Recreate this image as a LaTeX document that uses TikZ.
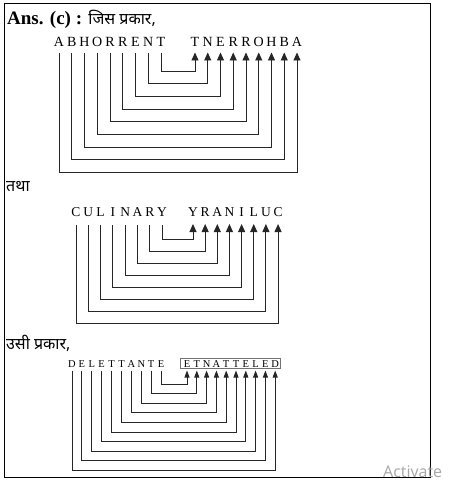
\documentclass[tikz,border=0pt]{standalone}
\usepackage{fontspec}
\setmainfont{Liberation Serif}
\newfontfamily\hindi[Script=Devanagari]{Noto Sans}
\newfontfamily\winfont{Open Sans}
\usetikzlibrary{arrows.meta}

\tikzset{
  ltr/.style={inner sep=0pt, anchor=base},
  link/.style={line width=0.9pt, draw=black!85},
  tip/.style={-{Triangle[length=8pt,width=7pt]}},
  smalltip/.style={-{Triangle[length=7pt,width=5pt]}},
  lbl/.style={anchor=base west, inner sep=0pt},
}

\begin{document}
\begin{tikzpicture}[x=1pt,y=-1pt]
\useasboundingbox (0,0) rectangle (459,502);
\draw[line width=1pt] (4,4) rectangle (430,477);

% heading and captions
\node[lbl] (ans) at (7,25) {\fontsize{19}{19}\selectfont\textbf{Ans. (c) :} {\hindi\fontsize{16}{16}\selectfont जिस प्रकार,}};
\node[lbl] (tatha) at (6,192) {\hindi\fontsize{16}{16}\selectfont तथा};
\node[lbl] (usi) at (6,349) {\hindi\fontsize{16}{16}\selectfont उसी प्रकार,};

% ABHORRENT
\foreach \c [count=\i] in {A,B,H,O,R,R,E,N,T}
  \node[ltr,font=\fontsize{14}{14}\selectfont] (ab\i) at ({59+(\i-1)*12.75},46.5) {\c};
\foreach \c [count=\i] in {T,N,E,R,R,O,H,B,A}
  \node[ltr,font=\fontsize{14}{14}\selectfont] (ba\i) at ({195+(\i-1)*12.75},46.5) {\c};
\foreach \i in {1,...,9}{
  \pgfmathtruncatemacro\j{10-\i}
  \coordinate (lv\i) at (0,{71+(9-\i)*12.7});
  \draw[link,tip] ([yshift=-7pt]ab\i.base) -- (ab\i |- lv\i) -- (ba\j |- lv\i) -- ([yshift=-6pt]ba\j.base);
}

% CULINARY
\foreach \c [count=\i] in {C,U,L,I,N,A,R,Y}
  \node[ltr,font=\fontsize{13.5}{13.5}\selectfont] (cu\i) at ({76+(\i-1)*12.3},217) {\c};
\foreach \c [count=\i] in {Y,R,A,N,I,L,U,C}
  \node[ltr,font=\fontsize{13.5}{13.5}\selectfont] (yr\i) at ({193+(\i-1)*12.15},217) {\c};
\foreach \i in {1,...,8}{
  \pgfmathtruncatemacro\j{9-\i}
  \coordinate (lw\i) at (0,{239+(8-\i)*12});
  \draw[link,tip] ([yshift=-8pt]cu\i.base) -- (cu\i |- lw\i) -- (yr\j |- lw\i) -- ([yshift=-7pt]yr\j.base);
}

% DELETTANTE
\foreach \c [count=\i] in {D,E,L,E,T,T,A,N,T,E}
  \node[ltr,font=\fontsize{10.5}{10.5}\selectfont] (de\i) at ({72+(\i-1)*9.9},367) {\c};
\foreach \c [count=\i] in {E,T,N,A,T,T,E,L,E,D}
  \node[ltr,font=\fontsize{10.5}{10.5}\selectfont] (et\i) at ({187+(\i-1)*9.8},367) {\c};
\draw[draw=black!55, line width=0.6pt] (180.5,358.5) rectangle (280.5,368.5);
\foreach \i in {1,...,10}{
  \pgfmathtruncatemacro\j{11-\i}
  \coordinate (lx\i) at (0,{384+(10-\i)*9.6});
  \draw[link,smalltip] ([yshift=-3.5pt]de\i.base) -- (de\i |- lx\i) -- (et\j |- lx\i) -- ([yshift=-3.5pt]et\j.base);
}

% watermark
\node[lbl, text=black!35, font=\winfont\fontsize{16}{16}\selectfont] (act) at (383,477) {Activate};
\end{tikzpicture}
\end{document}
